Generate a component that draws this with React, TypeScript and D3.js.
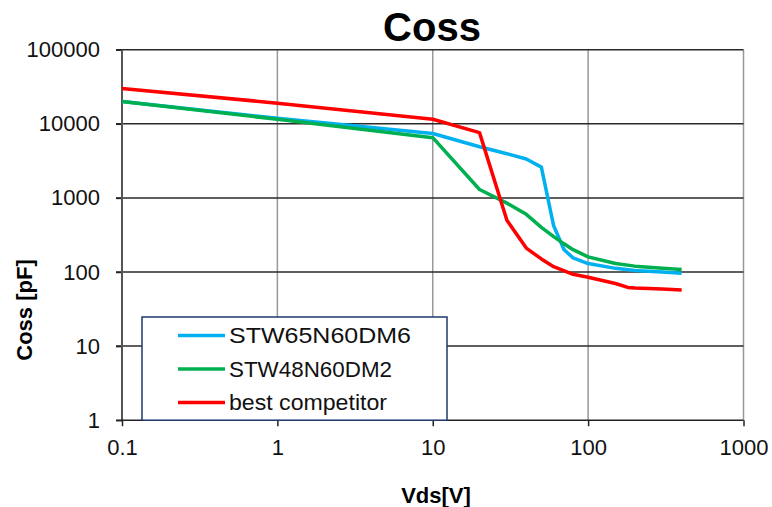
import React, { useEffect, useRef } from 'react';
import * as d3 from 'd3';

// Vds [V] / Coss [pF]
const blueVds = [0.1, 1, 10, 20, 30, 40, 50, 60, 70, 80, 100, 150, 200, 300, 400];
const blueCoss = [20000, 11900, 7400, 4900, 3950, 3350, 2600, 420, 200, 155, 130, 112, 105, 100, 96];

const greenVds = [0.1, 1, 10, 20, 30, 40, 50, 60, 70, 80, 100, 150, 200, 300, 400];
const greenCoss = [20000, 11500, 6500, 1300, 850, 600, 400, 300, 240, 200, 160, 130, 120, 112, 108];

const redVds = [0.1, 1, 10, 20, 30, 40, 50, 60, 80, 100, 150, 180, 200, 300, 400];
const redCoss = [30000, 19000, 11500, 7600, 500, 210, 150, 118, 93, 85, 70, 62, 61, 59, 57];

const seriesNames = ['STW65N60DM6', 'STW48N60DM2', 'best competitor'];
const seriesColors = ['#00B0F0', '#00B050', '#FF0000'];

const xTicks = [0.1, 1, 10, 100, 1000];
const yTicks = [1, 10, 100, 1000, 10000, 100000];

const App: React.FC = () => {
  const ref = useRef(null);

  useEffect(() => {
    if (!ref.current) return;
    const svg = d3.select(ref.current);
    svg.selectAll('*').remove();

    const left = 122;
    const right = 743.5;
    const top = 49.7;
    const bottom = 420.2;

    const x = d3.scaleLog().domain([0.1, 1000]).range([left, right]);
    const y = d3.scaleLog().domain([1, 100000]).range([bottom, top]);

    const font = 'Liberation Sans, Arial, sans-serif';

    // vertical grid
    svg
      .append('g')
      .selectAll('line')
      .data(xTicks.slice(1))
      .enter()
      .append('line')
      .attr('x1', (d) => x(d))
      .attr('x2', (d) => x(d))
      .attr('y1', top)
      .attr('y2', bottom)
      .attr('stroke', '#999')
      .attr('stroke-width', 1.5);

    // horizontal grid
    svg
      .append('g')
      .selectAll('line')
      .data(yTicks.slice(1))
      .enter()
      .append('line')
      .attr('x1', left - 6)
      .attr('x2', right)
      .attr('y1', (d) => y(d))
      .attr('y2', (d) => y(d))
      .attr('stroke', '#2a2a2a')
      .attr('stroke-width', 1.5);

    // axes
    const yAxis = d3
      .axisLeft(y)
      .tickValues(yTicks)
      .tickFormat((d) => String(d))
      .tickSize(6)
      .tickPadding(16);
    const gy = svg.append('g').attr('transform', `translate(${left},0)`).call(yAxis);
    gy.select('.domain').remove();
    gy.selectAll('line').attr('stroke', '#222').attr('stroke-width', 1.5);
    gy.selectAll('text').attr('font-family', font).attr('font-size', 22).attr('fill', '#111');

    const xAxis = d3
      .axisBottom(x)
      .tickValues(xTicks)
      .tickFormat((d) => String(d))
      .tickSize(6)
      .tickPadding(13);
    const gx = svg.append('g').attr('transform', `translate(0,${bottom})`).call(xAxis);
    gx.select('.domain').remove();
    gx.selectAll('line').attr('stroke', '#222').attr('stroke-width', 1.5);
    gx.selectAll('text').attr('font-family', font).attr('font-size', 22).attr('fill', '#111');

    svg
      .append('line')
      .attr('x1', left)
      .attr('x2', left)
      .attr('y1', top)
      .attr('y2', bottom)
      .attr('stroke', '#555')
      .attr('stroke-width', 2);
    svg
      .append('line')
      .attr('x1', left - 6)
      .attr('x2', right)
      .attr('y1', bottom)
      .attr('y2', bottom)
      .attr('stroke', '#222')
      .attr('stroke-width', 1.5);

    // curves
    const series = [
      { vds: blueVds, coss: blueCoss },
      { vds: greenVds, coss: greenCoss },
      { vds: redVds, coss: redCoss },
    ];
    const line = d3
      .line<[number, number]>()
      .x((d) => x(d[0]))
      .y((d) => y(d[1]));

    series.forEach((s, i) => {
      const pts = s.vds.map((v, j) => [v, s.coss[j]] as [number, number]);
      svg
        .append('path')
        .attr('d', line(pts))
        .attr('fill', 'none')
        .attr('stroke', seriesColors[i])
        .attr('stroke-width', 3.5)
        .attr('stroke-linejoin', 'round');
    });

    // legend
    const lg = svg.append('g');
    lg.append('rect')
      .attr('x', 142)
      .attr('y', 317)
      .attr('width', 305)
      .attr('height', bottom - 317)
      .attr('fill', 'white')
      .attr('stroke', '#1F3A6E')
      .attr('stroke-width', 1.5);
    const rows = lg
      .selectAll('g.row')
      .data(seriesNames)
      .enter()
      .append('g')
      .attr('transform', (d, i) => `translate(0,${335.5 + i * 33.5})`);
    rows
      .append('line')
      .attr('x1', 178)
      .attr('x2', 225)
      .attr('y1', 0)
      .attr('y2', 0)
      .attr('stroke', (d, i) => seriesColors[i])
      .attr('stroke-width', 3.5);
    rows
      .append('text')
      .attr('x', 229)
      .attr('y', 0)
      .attr('dy', '0.36em')
      .attr('font-family', font)
      .attr('font-size', 22)
      .attr('fill', '#111')
      .attr('textLength', (d, i) => [182, 163, 158][i])
      .attr('lengthAdjust', 'spacingAndGlyphs')
      .text((d) => d);

    // titles
    svg
      .append('text')
      .attr('x', 432)
      .attr('y', 41)
      .attr('text-anchor', 'middle')
      .attr('font-family', font)
      .attr('font-weight', 'bold')
      .attr('font-size', 40)
      .text('Coss');

    svg
      .append('text')
      .attr('x', 436)
      .attr('y', 503)
      .attr('text-anchor', 'middle')
      .attr('font-family', font)
      .attr('font-weight', 'bold')
      .attr('font-size', 22)
      .text('Vds[V]');

    svg
      .append('text')
      .attr('transform', 'translate(32,310) rotate(-90)')
      .attr('text-anchor', 'middle')
      .attr('font-family', font)
      .attr('font-weight', 'bold')
      .attr('font-size', 22)
      .text('Coss [pF]');

    return () => {
      svg.selectAll('*').remove();
    };
  }, []);

  return (
    <svg
      ref={ref}
      width={772}
      height={507}
      style={{ position: 'absolute', left: 0, top: 0, background: 'white' }}
    ></svg>
  );
};

export default App;
